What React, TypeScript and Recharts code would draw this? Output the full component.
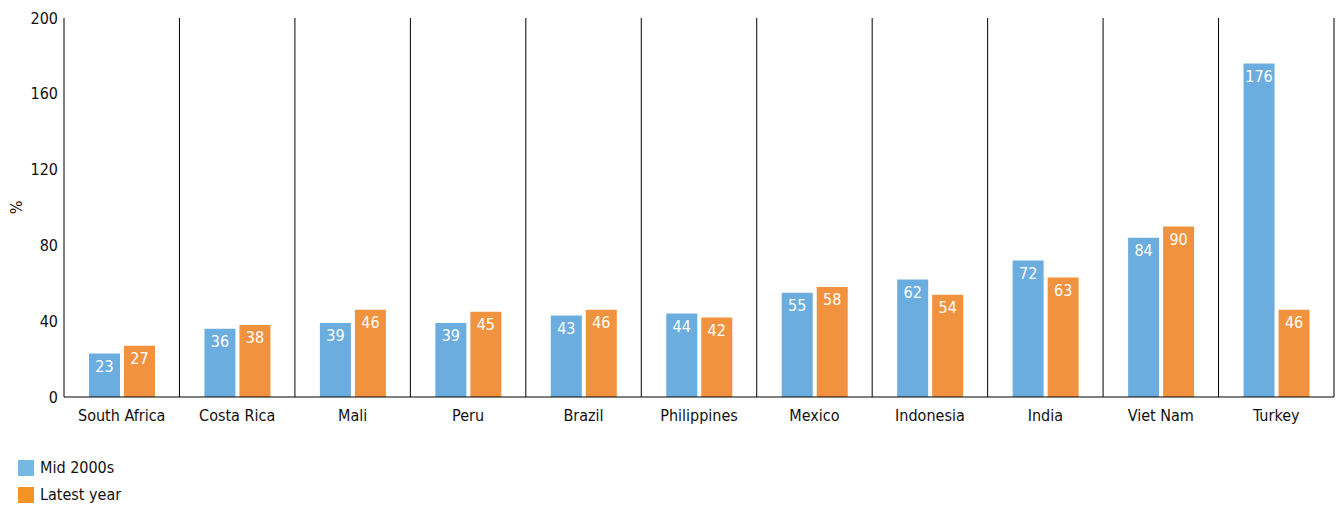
import React from 'react';
import { BarChart, Bar, XAxis, YAxis, CartesianGrid, LabelList, Legend } from 'recharts';

const categories = ['South Africa', 'Costa Rica', 'Mali', 'Peru', 'Brazil', 'Philippines', 'Mexico', 'Indonesia', 'India', 'Viet Nam', 'Turkey'];
const mid2000s = [23, 36, 39, 39, 43, 44, 55, 62, 72, 84, 176];
const latestYear = [27, 38, 46, 45, 46, 42, 58, 54, 63, 90, 46];
const yTicks = [0, 40, 80, 120, 160, 200];

const BLUE = '#6caddf';
const ORANGE = '#f1923f';
const FONT = "'Liberation Sans Narrow', 'DejaVu Sans Condensed', 'Liberation Sans', Arial, sans-serif";

const data = categories.map((c, i) => ({ name: c, mid: mid2000s[i], latest: latestYear[i] }));

const legendItems = [
  { label: 'Mid 2000s', color: '#74b9e6' },
  { label: 'Latest year', color: '#f39425' },
];

const LegendContent = () => (
  <div style={{ fontFamily: FONT, fontSize: 16, color: '#111' }}>
    {legendItems.map((it) => (
      <div key={it.label} style={{ display: 'flex', alignItems: 'center', height: 27 }}>
        <span style={{ display: 'inline-block', width: 16, height: 16, background: it.color, marginRight: 6 }} />
        <span>{it.label}</span>
      </div>
    ))}
  </div>
);

export default function App() {
  return (
    <div style={{ position: 'absolute', left: 0, top: 0, width: 1338, height: 506, background: '#fff' }}>
      <BarChart
        width={1338}
        height={506}
        data={data}
        margin={{ top: 18, right: 4, left: 0, bottom: 79 }}
        barCategoryGap={25}
        barGap={4}
      >
        <CartesianGrid
          horizontal={false}
          vertical={true}
          stroke="#000"
          strokeOpacity={1}
          verticalCoordinatesGenerator={({ offset }: any) => {
            const arr: number[] = [];
            for (let i = 1; i <= categories.length; i++) arr.push(offset.left + (i * offset.width) / categories.length);
            return arr;
          }}
        />
        <XAxis
          dataKey="name"
          axisLine={{ stroke: '#000' }}
          tickLine={false}
          tick={{ fill: '#111', fontSize: 16, fontFamily: FONT }}
          tickMargin={7}
          height={30}
          interval={0}
        />
        <YAxis
          domain={[0, 200]}
          ticks={yTicks}
          width={64}
          axisLine={{ stroke: '#000' }}
          tickLine={false}
          tickSize={4}
          tick={{ fill: '#111', fontSize: 16, fontFamily: FONT }}
          label={{ value: '%', angle: -90, position: 'center', dx: -16, fill: '#111', fontSize: 16, fontFamily: FONT }}
        />
        <Legend
          layout="horizontal"
          verticalAlign="middle"
          align="center"
          content={<LegendContent />}
          wrapperStyle={{ left: 18, top: 454, width: 200, height: 54 }}
        />
        <Bar dataKey="mid" name="Mid 2000s" fill={BLUE} isAnimationActive={false}>
          <LabelList dataKey="mid" position="insideTop" offset={7} fill="#fff" fontSize={16} fontFamily={FONT} />
        </Bar>
        <Bar dataKey="latest" name="Latest year" fill={ORANGE} isAnimationActive={false}>
          <LabelList dataKey="latest" position="insideTop" offset={7} fill="#fff" fontSize={16} fontFamily={FONT} />
        </Bar>
      </BarChart>
    </div>
  );
}
